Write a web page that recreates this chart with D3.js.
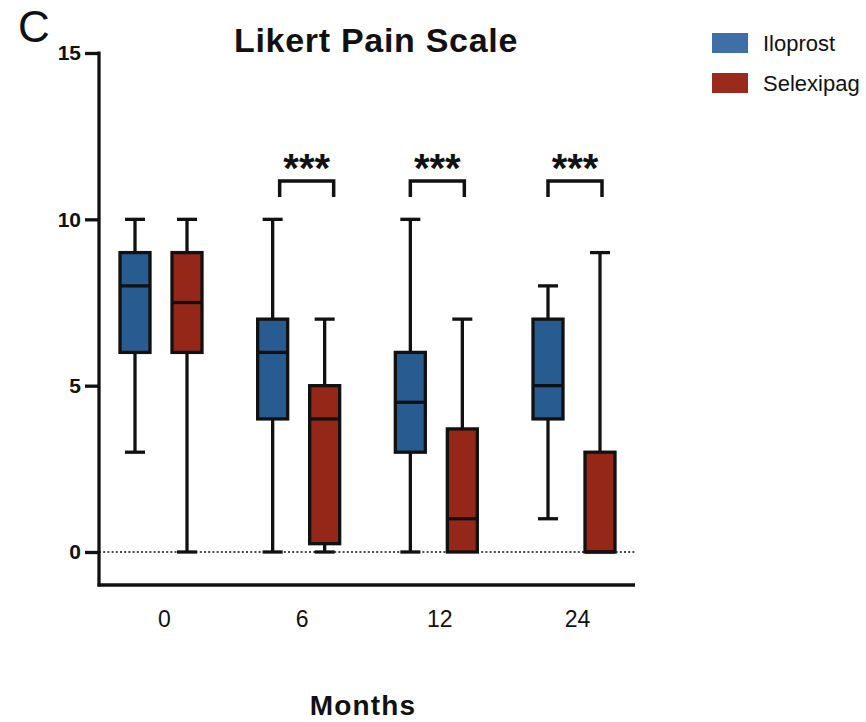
<!DOCTYPE html>
<html>
<head>
<meta charset="utf-8">
<script src="https://cdn.jsdelivr.net/npm/d3@7"></script>
<style>
  html, body { margin: 0; padding: 0; background: #fff; }
  svg { display: block; font-family: "Liberation Sans", Arial, sans-serif; }
</style>
</head>
<body>
<svg id="chart" width="866" height="722"></svg>
<script>
// ---- data ----
const months = ["0", "6", "12", "24"];
const seriesNames = ["Iloprost", "Selexipag"];
const seriesColors = ["#285b8f", "#952718"];
const legendColors = ["#3f6fa6", "#9a2a1c"];
// [min, q1, median, q3, max]
const iloprost = [
  [3, 6, 8, 9, 10],
  [0, 4, 6, 7, 10],
  [0, 3, 4.5, 6, 10],
  [1, 4, 5, 7, 8]
];
const selexipag = [
  [0, 6, 7.5, 9, 10],
  [0, 0.25, 4, 5, 7],
  [0, 0, 1, 3.7, 7],
  [0, 0, 0, 3, 9]
];
const yTicks = [0, 5, 10, 15];
const significance = ["", "***", "***", "***"];
const titleText = "Likert Pain Scale";
const xTitle = "Months";
const panelLabel = "C";

// ---- layout ----
const svg = d3.select("#chart");
const axisX0 = 99, axisX1 = 635, axisYBottom = 585;
const y = d3.scaleLinear().domain([0, 15]).range([552, 53]);
const x = d3.scalePoint().domain(months).range([161, 574]);
const offset = d3.scalePoint().domain(seriesNames).range([-26, 26]);
const boxW = 30, capW = 20, sw = 3.3;

// title & panel label
svg.append("text").attr("x", 18).attr("y", 42).attr("font-size", 44)
  .attr("fill", "#111").text(panelLabel);
svg.append("text").attr("x", 376).attr("y", 52).attr("text-anchor", "middle")
  .attr("font-size", 34).attr("font-weight", "bold").attr("letter-spacing", 0.7)
  .attr("fill", "#111").text(titleText);

// y axis
const yAxis = d3.axisLeft(y).tickValues(yTicks).tickSize(14).tickPadding(4);
const gy = svg.append("g").attr("transform", `translate(${axisX0},0)`).call(yAxis);
gy.select(".domain").remove();
gy.selectAll(".tick line").attr("stroke", "#111").attr("stroke-width", sw);
gy.selectAll(".tick text").attr("font-size", 21).attr("font-weight", "bold")
  .attr("fill", "#111").attr("font-family", "Liberation Sans, Arial, sans-serif");
svg.append("line").attr("x1", axisX0).attr("x2", axisX0)
  .attr("y1", y(15) - 1.5).attr("y2", axisYBottom + 1.5)
  .attr("stroke", "#111").attr("stroke-width", sw);

// x axis
svg.append("line").attr("x1", axisX0 - 1.5).attr("x2", axisX1)
  .attr("y1", axisYBottom).attr("y2", axisYBottom)
  .attr("stroke", "#111").attr("stroke-width", sw);
const xAxis = d3.axisBottom(x).tickSize(0).tickPadding(0);
const gx = svg.append("g").attr("transform", `translate(3,${axisYBottom + 42})`).call(xAxis);
gx.select(".domain").remove();
gx.selectAll(".tick text").attr("font-size", 23).attr("fill", "#111")
  .attr("dy", 0).attr("font-family", "Liberation Sans, Arial, sans-serif");

// zero dotted line
svg.append("line").attr("x1", axisX0).attr("x2", axisX1)
  .attr("y1", y(0)).attr("y2", y(0))
  .attr("stroke", "#111").attr("stroke-width", 1.7).attr("stroke-dasharray", "2,2.2");

// boxes
const seriesData = [iloprost, selexipag];
seriesData.forEach((data, si) => {
  const g = svg.append("g");
  data.forEach((d, i) => {
    const cx = x(months[i]) + offset(seriesNames[si]);
    const [mn, q1, md, q3, mx] = d;
    g.append("line").attr("x1", cx).attr("x2", cx).attr("y1", y(mx)).attr("y2", y(q3))
      .attr("stroke", "#111").attr("stroke-width", sw);
    g.append("line").attr("x1", cx).attr("x2", cx).attr("y1", y(q1)).attr("y2", y(mn))
      .attr("stroke", "#111").attr("stroke-width", sw);
    if (mx > q3) g.append("line").attr("x1", cx - capW / 2).attr("x2", cx + capW / 2)
      .attr("y1", y(mx)).attr("y2", y(mx)).attr("stroke", "#111").attr("stroke-width", sw);
    if (mn < q1) g.append("line").attr("x1", cx - capW / 2).attr("x2", cx + capW / 2)
      .attr("y1", y(mn)).attr("y2", y(mn)).attr("stroke", "#111").attr("stroke-width", sw);
    g.append("rect").attr("x", cx - boxW / 2).attr("width", boxW)
      .attr("y", y(q3)).attr("height", Math.max(0, y(q1) - y(q3)))
      .attr("fill", seriesColors[si]).attr("stroke", "#111").attr("stroke-width", sw);
    g.append("line").attr("x1", cx - boxW / 2).attr("x2", cx + boxW / 2)
      .attr("y1", y(md)).attr("y2", y(md)).attr("stroke", "#111").attr("stroke-width", sw);
  });
});

// significance brackets
significance.forEach((s, i) => {
  if (!s) return;
  const x1 = x(months[i]) + offset(seriesNames[0]) + (i === 1 ? 7 : 0);
  const x2 = x(months[i]) + offset(seriesNames[1]) + (i === 1 ? 9 : 2);
  const yb = 181, yd = 197;
  svg.append("path")
    .attr("d", `M${x1},${yd}V${yb}H${x2}V${yd}`)
    .attr("fill", "none").attr("stroke", "#111").attr("stroke-width", 3.5);
  svg.append("text").attr("x", (x1 + x2) / 2).attr("y", 182)
    .attr("text-anchor", "middle").attr("font-size", 40).attr("font-weight", "bold")
    .attr("fill", "#111").text(s);
});

// x title
svg.append("text").attr("x", 363).attr("y", 715).attr("text-anchor", "middle")
  .attr("font-size", 28).attr("font-weight", "bold").attr("letter-spacing", 1.2)
  .attr("fill", "#111").text(xTitle);

// legend
seriesNames.forEach((n, i) => {
  const ly = 33 + i * 40;
  svg.append("rect").attr("x", 712).attr("y", ly).attr("width", 36).attr("height", 20)
    .attr("fill", legendColors[i]);
  svg.append("text").attr("x", 763).attr("y", ly + 18).attr("font-size", 22)
    .attr("fill", "#111").text(n);
});
</script>
</body>
</html>
